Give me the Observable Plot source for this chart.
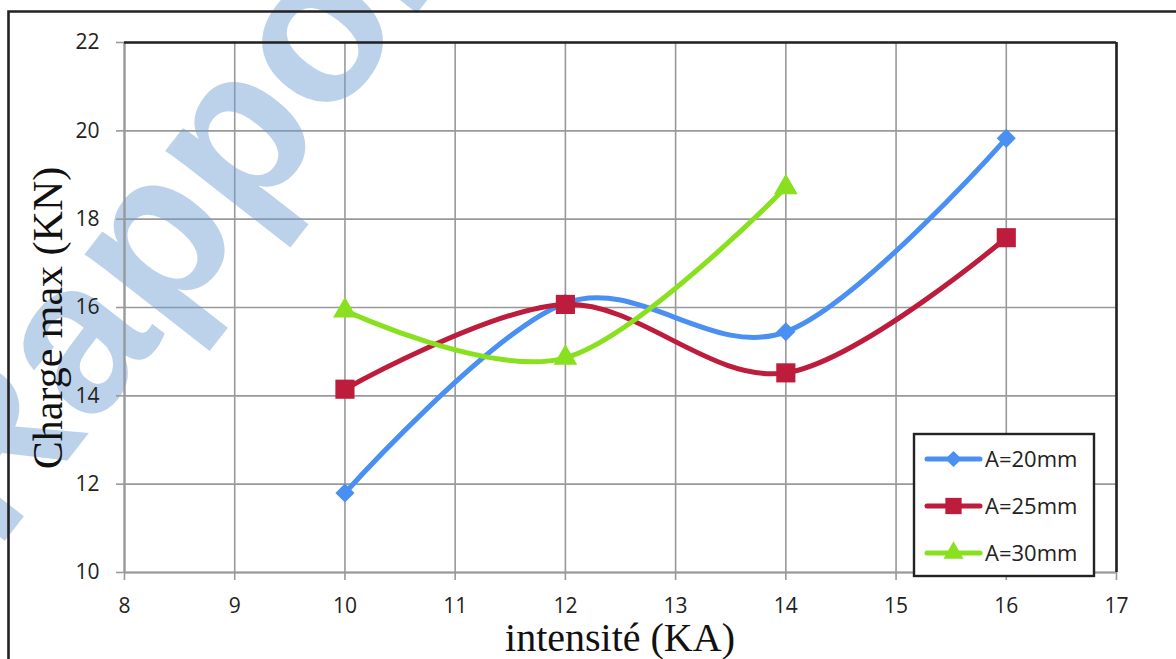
<!DOCTYPE html>
<html>
<head>
<meta charset="utf-8">
<script src="https://cdn.jsdelivr.net/npm/d3@7"></script>
<script src="https://cdn.jsdelivr.net/npm/@observablehq/plot@0.6"></script>
<style>
  html, body { margin: 0; padding: 0; background: #fff; }
  #chart svg { display: block; }
</style>
</head>
<body>
<div id="chart"></div>
<script>
// Intensité de soudage (KA) testée pour chaque série
const intensite = [10, 12, 14, 16];

// Charge max (KN) mesurée par série
const chargeA20 = [11.8, 16.1, 15.45, 19.83];
const chargeA25 = [14.15, 16.07, 14.52, 17.58];
const chargeA30 = [15.93, 14.86, 18.72];

const seriesNames = ["A=20mm", "A=25mm", "A=30mm"];
const seriesColors = ["#4a8ff2", "#be1c3c", "#88e01e"];
const seriesSymbols = ["diamond2", "square", "triangle"];
const seriesRadius = [8.6, 10.8, 8.8];

const xTicks = [8, 9, 10, 11, 12, 13, 14, 15, 16, 17];
const yTicks = [10, 12, 14, 16, 18, 20, 22];

const xTitle = "intensité (KA)";
const yTitle = "Charge max (KN)";

// Long-format rows for Plot
const seriesValues = [chargeA20, chargeA25, chargeA30];
const rows = seriesValues.flatMap((vals, i) =>
  vals.map((v, j) => ({ series: seriesNames[i], x: intensite[j], y: v }))
);

const W = 1176, H = 659;
const tickFont = "'Open Sans', Lato, sans-serif";

const chart = Plot.plot({
  width: W,
  height: H,
  marginLeft: 124,
  marginRight: 60,
  marginTop: 42,
  marginBottom: 87,
  x: { domain: [8, 17] },
  y: { domain: [10, 22] },
  color: { domain: seriesNames, range: seriesColors },
  style: { fontFamily: tickFont, background: "#fff", overflow: "visible" },
  marks: [
    Plot.gridX(xTicks, { stroke: "#999", strokeOpacity: 1, strokeWidth: 1.6 }),
    Plot.gridY(yTicks, { stroke: "#999", strokeOpacity: 1, strokeWidth: 1.6 }),
    Plot.axisX(xTicks, {
      tickSize: 8, tickPadding: 18, stroke: "#999", strokeWidth: 1.6,
      fill: "#222", fontSize: 21, label: null, tickFormat: d => String(d)
    }),
    Plot.axisY(yTicks, {
      tickSize: 8, tickPadding: 17, stroke: "#999", strokeWidth: 1.6,
      fill: "#222", fontSize: 21, label: null, tickFormat: d => String(d)
    }),
    // axis lines (left/bottom) and the plot-area frame (top/right)
    Plot.ruleY([10], { stroke: "#999", strokeWidth: 2.2 }),
    Plot.ruleX([8], { stroke: "#999", strokeWidth: 2.2 }),
    Plot.ruleY([22], { stroke: "#222", strokeWidth: 2.6 }),
    Plot.ruleX([17], { stroke: "#222", strokeWidth: 2.6 }),
    // smoothed series
    Plot.line(rows, {
      x: "x", y: "y", z: "series", stroke: "series",
      strokeWidth: 5, curve: "cardinal", strokeLinecap: "round", strokeLinejoin: "round"
    }),
    ...seriesNames.map((name, i) =>
      Plot.dot(rows.filter(d => d.series === name), {
        x: "x", y: "y", symbol: seriesSymbols[i], r: seriesRadius[i],
        fill: seriesColors[i], stroke: "none"
      })
    )
  ]
});

document.getElementById("chart").appendChild(chart);

const svg = d3.select(chart);

// Background watermark, placed just above the grid lines
const wm = document.createElementNS("http://www.w3.org/2000/svg", "text");
wm.textContent = "Rapport";
d3.select(wm)
  .attr("transform", "translate(-4,552) rotate(-52)")
  .attr("text-anchor", "start")
  .attr("font-family", "'Liberation Sans', Arial, sans-serif")
  .attr("font-weight", "bold")
  .attr("font-size", 215)
  .attr("fill", "rgb(110,158,212)")
  .attr("fill-opacity", 0.46);
chart.insertBefore(wm, chart.children[3]);

// Outer border of the figure (left and top)
svg.append("path")
  .attr("d", `M8.5,${H} V11.5 H${W}`)
  .attr("fill", "none")
  .attr("stroke", "#222")
  .attr("stroke-width", 2.6);

// Axis titles
svg.append("text")
  .attr("x", 620).attr("y", 651)
  .attr("text-anchor", "middle")
  .attr("font-family", "'Liberation Serif', 'Times New Roman', serif")
  .attr("font-size", 40)
  .attr("fill", "#111")
  .text(xTitle);

svg.append("text")
  .attr("transform", "translate(62,318) rotate(-90)")
  .attr("text-anchor", "middle")
  .attr("font-family", "'Liberation Serif', 'Times New Roman', serif")
  .attr("font-size", 42)
  .attr("fill", "#111")
  .text(yTitle);

// Legend
const lg = svg.append("g").attr("transform", "translate(914,434)");
lg.append("rect")
  .attr("width", 180).attr("height", 142)
  .attr("fill", "#fff").attr("stroke", "#222").attr("stroke-width", 2.4);

const d3Symbols = { diamond2: d3.symbolDiamond2, square: d3.symbolSquare, triangle: d3.symbolTriangle };
seriesNames.forEach((name, i) => {
  const y = 25 + i * 47;
  const row = lg.append("g").attr("transform", `translate(0,${y})`);
  row.append("line")
    .attr("x1", 13).attr("x2", 66).attr("y1", 0).attr("y2", 0)
    .attr("stroke", seriesColors[i]).attr("stroke-width", 5).attr("stroke-linecap", "round");
  const r = seriesRadius[i] * 0.85;
  row.append("path")
    .attr("transform", "translate(39.5,0)")
    .attr("d", d3.symbol(d3Symbols[seriesSymbols[i]], Math.PI * r * r)())
    .attr("fill", seriesColors[i]);
  row.append("text")
    .attr("x", 71).attr("y", 0).attr("dy", "0.36em")
    .attr("text-anchor", "start")
    .attr("font-family", tickFont)
    .attr("font-size", 22)
    .attr("fill", "#222")
    .text(name);
});
</script>
</body>
</html>
